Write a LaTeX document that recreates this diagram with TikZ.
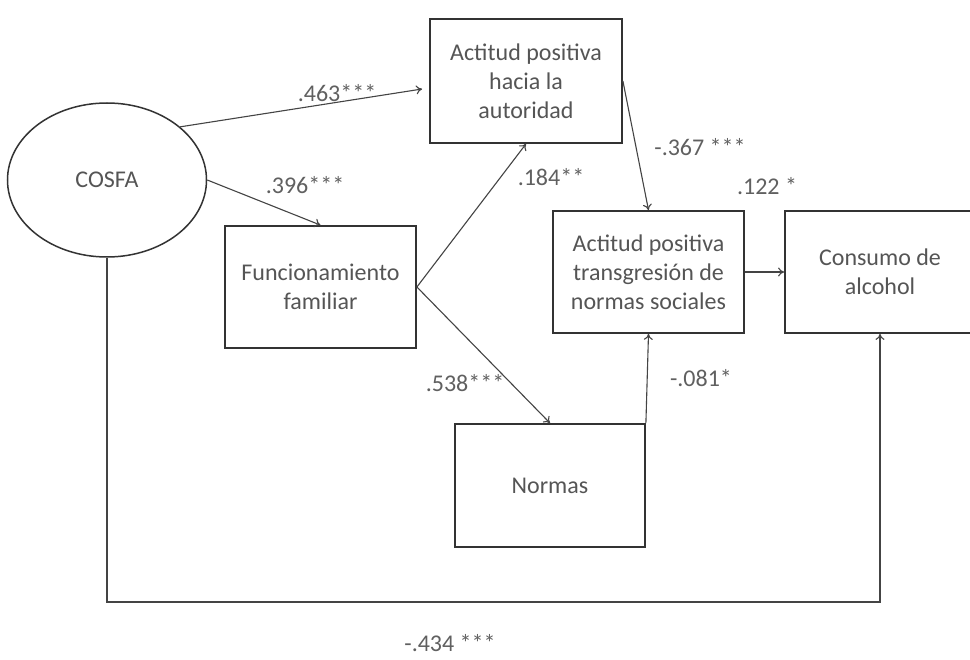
\documentclass[tikz,border=0pt]{standalone}
\usepackage{fontspec}
\setmainfont{Carlito}
\usetikzlibrary{shapes.geometric,arrows.meta}
\definecolor{txt}{HTML}{555555}
\definecolor{lbl}{HTML}{606060}
\definecolor{edge}{HTML}{333333}
\definecolor{conn}{HTML}{444444}
\begin{document}
\begin{tikzpicture}[x=1pt,y=-1pt,
  box/.style={draw=edge, line width=1.8pt, rectangle, inner sep=0pt, align=center,
     text=txt, font=\fontsize{24}{29}\selectfont},
  oval/.style={draw=edge, line width=1.5pt, ellipse, inner sep=0pt,
     minimum width=199pt, minimum height=154pt, text=txt, font=\fontsize{24}{29}\selectfont},
  arr/.style={draw=conn, line width=1.1pt, -{To[length=6pt,width=9pt]}},
  wire/.style={draw=conn, line width=1.1pt},
  lab/.style={text=lbl, font=\fontsize{24}{29}\selectfont, inner sep=0pt}]
\useasboundingbox[fill=white] (0,0) rectangle (970,660);

\node[oval] (cosfa) at (107,180) {COSFA};
\node[box, minimum width=192pt, minimum height=124pt] (auth) at (526,81)
  {Actitud positiva\\hacia la\\autoridad};
\node[box, minimum width=191pt, minimum height=122pt] (func) at (320.5,287)
  {Funcionamiento\\familiar};
\node[box, minimum width=191pt, minimum height=122pt] (trans) at (648.5,272)
  {Actitud positiva\\transgresión de\\normas sociales};
\node[box, minimum width=190pt, minimum height=122pt] (cons) at (880,272)
  {Consumo de\\alcohol};
\node[box, minimum width=190pt, minimum height=123pt] (normas) at (550,485.5)
  {Normas};

\coordinate (authin) at ([shift={(-7,8)}]auth.west);
\coordinate (bot) at (107,602);

\draw[arr] (cosfa.36) -- (authin);
\draw[arr] (cosfa.east) -- (func.north);
\draw[arr] (func.east) -- (auth.south);
\draw[arr] (func.east) -- (normas.north);
\draw[arr] (auth.east) -- (trans.north);
\draw[arr] (trans.east) -- (cons.west);
\draw[arr] (normas.north east) -- (trans.south);
\draw[arr] (cosfa.south) -- (bot) -| (cons.south);

\node[lab] (l1) at (337,93) {.463***};
\node[lab] (l2) at (305,185) {.396***};
\node[lab] (l3) at (551,177) {.184**};
\node[lab] (l4) at (700,147) {-.367 ***};
\node[lab] (l5) at (767,186) {.122 *};
\node[lab] (l6) at (465,383) {.538***};
\node[lab] (l7) at (701,378) {-.081*};
\node[lab] (l8) at (450,643) {-.434 ***};
\end{tikzpicture}
\end{document}
